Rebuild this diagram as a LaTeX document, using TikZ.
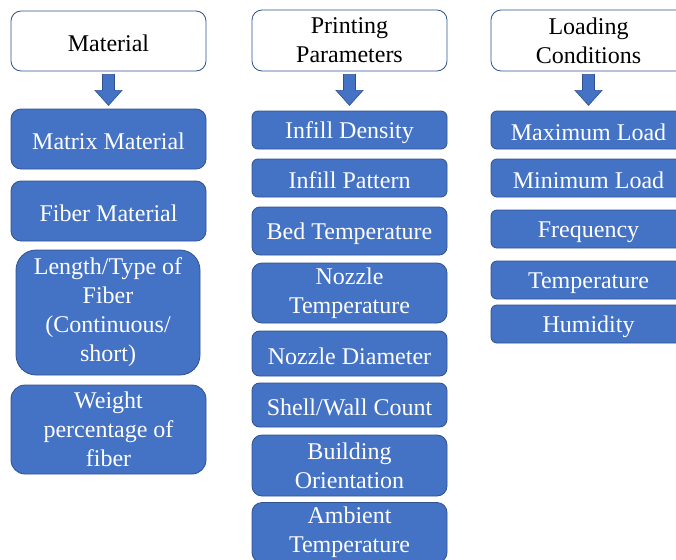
\documentclass[tikz,border=0pt]{standalone}
\usepackage{fontspec}
\setmainfont{Liberation Serif}
\usetikzlibrary{calc}
\definecolor{obl}{HTML}{4472C4}
\definecolor{obd}{HTML}{2F528F}
\tikzset{
 base/.style={draw=obd, line width=0.8pt, align=center, inner sep=0pt,
   font=\fontsize{24}{29}\selectfont, minimum width=195pt,
   execute at begin node={\rule{0pt}{21.5pt}}},
 headbox/.style={base, fill=white, text=black},
 itembox/.style={base, fill=obl, text=white},
 blockarrow/.style={fill=obl, draw=obd, line width=0.6pt},
}
\newcommand\blkarrow[1]{%
  \draw[blockarrow] ($(#1.south)+(-6,-3)$) -- ++(12,0) -- ++(0,-16) -- ++(7.5,0)
    -- ($(#1.south)+(0,-34)$) -- ($(#1.south)+(-13.5,-19)$) -- ++(7.5,0) -- cycle;}
\begin{document}
\begin{tikzpicture}[x=1pt,y=1pt]
\useasboundingbox (0,0) rectangle (676,-559);
% Column 1
\node[headbox, minimum height=60, rounded corners=10] (m0) at (108.5,-41) {Material};
\node[itembox, minimum height=60, rounded corners=10] (m1) at (108.5,-139) {Matrix Material};
\node[itembox, minimum height=60, rounded corners=10] (m2) at (108.5,-211) {Fiber Material};
\node[itembox, minimum width=184, minimum height=125, rounded corners=20] (m3) at (108,-312.5) {Length/Type of\\Fiber\\(Continuous/\\short)};
\node[itembox, minimum height=89, rounded corners=14] (m4) at (108.5,-429.5) {Weight\\percentage of\\fiber};
\blkarrow{m0}
% Column 2
\node[headbox, minimum height=61, rounded corners=10] (p0) at (349.5,-40.5) {Printing\\Parameters};
\node[itembox, minimum height=38, rounded corners=6] (p1) at (349.5,-130) {Infill Density};
\node[itembox, minimum height=38, rounded corners=6] (p2) at (349.5,-178) {Infill Pattern};
\node[itembox, minimum height=48, rounded corners=8] (p3) at (349.5,-231) {Bed Temperature};
\node[itembox, minimum height=60, rounded corners=10] (p4) at (349.5,-293) {Nozzle\\Temperature};
\node[itembox, minimum height=45, rounded corners=7.5] (p5) at (349.5,-353.5) {Nozzle Diameter};
\node[itembox, minimum height=44, rounded corners=7.5] (p6) at (349.5,-405) {Shell/Wall Count};
\node[itembox, minimum height=61, rounded corners=10] (p7) at (349.5,-465.5) {Building\\Orientation};
\node[itembox, minimum height=60, rounded corners=10] (p8) at (349.5,-532.5) {Ambient\\Temperature};
\blkarrow{p0}
% Column 3
\node[headbox, minimum height=61, rounded corners=10] (l0) at (588.5,-40.5) {Loading\\Conditions};
\node[itembox, minimum height=38, rounded corners=6] (l1) at (588.5,-130) {Maximum Load};
\node[itembox, minimum height=38, rounded corners=6] (l2) at (588.5,-178) {Minimum Load};
\node[itembox, minimum height=38, rounded corners=6] (l3) at (588.5,-229) {Frequency};
\node[itembox, minimum height=38, rounded corners=6] (l4) at (588.5,-280) {Temperature};
\node[itembox, minimum height=38, rounded corners=6] (l5) at (588.5,-324) {Humidity};
\blkarrow{l0}
\end{tikzpicture}
\end{document}
